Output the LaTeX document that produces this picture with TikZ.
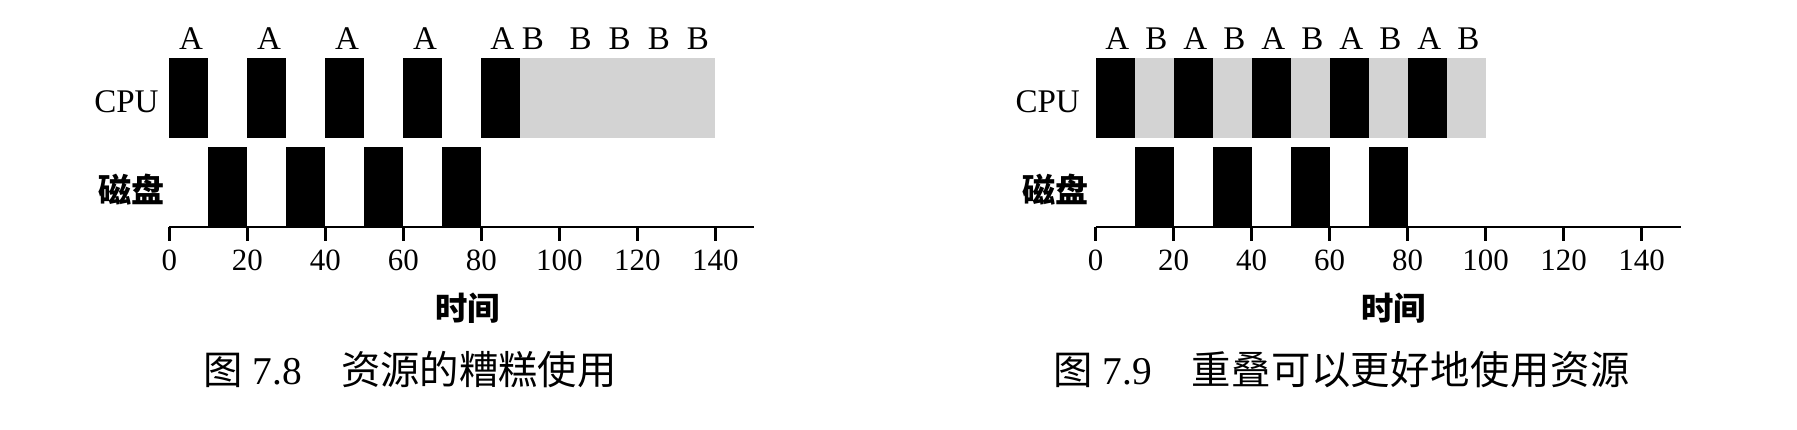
\documentclass[tikz,border=0pt]{standalone}
\usepackage{fontspec}
\setmainfont{Liberation Serif}
\newfontfamily\cjk{Noto Sans CJK SC}
\newfontfamily\cjkwide{Noto Sans CJK SC}[LetterSpace=1.5]
\usetikzlibrary{positioning}
\definecolor{idlegray}{RGB}{211,211,211}

\begin{document}
\begin{tikzpicture}[chart/.style={x=0.039cm,y=1cm},
                    busy/.style={fill=black},
                    idle/.style={fill=idlegray},
                    axis/.style={line width=0.85pt},
                    job/.style={anchor=base,inner sep=0pt,font=\fontsize{9.4}{11}\selectfont},
                    tick label/.style={anchor=base,inner sep=0pt,font=\fontsize{8.8}{10}\selectfont},
                    row label/.style={inner sep=0pt,font=\fontsize{9.4}{11}\selectfont},
                    disk label/.style={inner sep=0pt,font=\fontsize{9.4}{11}\selectfont\cjk\bfseries},
                    time label/.style={inner sep=0pt,font=\fontsize{9.2}{11}\selectfont\cjk\bfseries},
                    caption/.style={anchor=west,inner sep=0pt,font=\fontsize{11.2}{13}\selectfont}]
  \useasboundingbox (0,0) rectangle (17.97,4.30);

  % Fig 7.8: B only gets the CPU after A is done
  \begin{scope}[shift={(1.693cm,2.03cm)},chart]
    \fill[idle] (90,0.887) rectangle (140,1.687);
    \foreach \t in {0,20,...,80}
      \fill[busy] (\t,0.887) rectangle ++(10,0.8);
    \foreach \t in {10,30,...,70}
      \fill[busy] (\t,0) rectangle ++(10,0.803);
    \draw[axis] (0,0) -- (150,0);
    \foreach \t in {0,20,...,140}{
      \draw[axis] (\t,0) -- (\t,-0.14);
      \node[tick label] (l\t) at (\t,-0.44) {\t};
    }
    \foreach \t/\j [count=\i] in {5.6/A,25.6/A,45.6/A,65.6/A,85.4/A,93.2/B,105.5/B,115.5/B,125.5/B,135.5/B}
      \node[job] (lj\i) at (\t,1.77) {\j};
    \coordinate (lcpu) at (0,1.255);
    \coordinate (ldisk) at (0,0.37);
    \node[row label] (lcpulabel) [left=0.10cm of lcpu] {CPU};
    \node[disk label] (ldisklabel) [left=0.04cm of ldisk] {磁盘};
    \node[time label] (ltime) at (76.5,-0.81) {时间};
  \end{scope}

  % Fig 7.9: B runs while A waits for the disk
  \begin{scope}[shift={(10.955cm,2.03cm)},chart]
    \fill[idle] (10,0.887) rectangle (100,1.687);
    \foreach \t in {0,20,...,80}
      \fill[busy] (\t,0.887) rectangle ++(10,0.8);
    \foreach \t in {10,30,...,70}
      \fill[busy] (\t,0) rectangle ++(10,0.803);
    \draw[axis] (0,0) -- (150,0);
    \foreach \t in {0,20,...,140}{
      \draw[axis] (\t,0) -- (\t,-0.14);
      \node[tick label] (r\t) at (\t,-0.44) {\t};
    }
    \foreach \t [count=\i] in {5.6,25.6,45.6,65.6,85.6}{
      \node[job] (ra\i) at (\t,1.77) {A};
      \node[job] (rb\i) at (\t+10,1.77) {B};
    }
    \coordinate (rcpu) at (0,1.255);
    \coordinate (rdisk) at (0,0.37);
    \node[row label] (rcpulabel) [left=0.15cm of rcpu] {CPU};
    \node[disk label] (rdisklabel) [left=0.06cm of rdisk] {磁盘};
    \node[time label] (rtime) at (76.5,-0.81) {时间};
  \end{scope}

  \node[caption] (cap8) at (2.027,0.60) {{\cjk 图} 7.8\quad{\cjk 资源的糟糕使用}};
  \node[caption] (cap9) at (10.527,0.60) {{\cjk 图} 7.9\quad{\cjkwide 重叠可以更好地使用资源}};
\end{tikzpicture}
\end{document}
